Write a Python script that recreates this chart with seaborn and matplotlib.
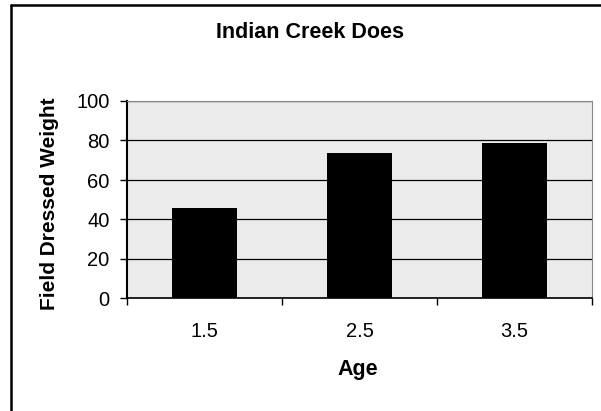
import matplotlib
matplotlib.use("Agg")
import matplotlib.pyplot as plt
import seaborn as sns
import pandas as pd
from matplotlib.lines import Line2D

ages = ["1.5", "2.5", "3.5"]
weights = [46, 73.5, 78.5]
yticks = [0, 20, 40, 60, 80, 100]

sns.set_theme(style="white")
plt.rcParams['font.family'] = ['Liberation Sans', 'DejaVu Sans']

W, H = 601, 411
fig = plt.figure(figsize=(W / 100, H / 100), dpi=100)
ax = fig.add_axes([127 / W, 1 - 298.5 / H, (592 - 127) / W, (298.5 - 101) / H])

df = pd.DataFrame({"Age": ages, "Weight": weights})
sns.barplot(data=df, x="Age", y="Weight", color="black", width=0.42,
            saturation=1, ax=ax, zorder=3, edgecolor="black", linewidth=0)

ax.set_facecolor("#ebebeb")
ax.set_ylim(0, 100)
ax.set_xlim(-0.5, 2.5)
ax.set_yticks(yticks)
ax.set_yticklabels([str(v) for v in yticks], fontsize=14.5)
ax.yaxis.grid(True, color="black", linewidth=0.9, zorder=1)
ax.set_axisbelow(True)
ax.tick_params(axis="y", which="major", left=True, length=5, width=1, color="black", pad=7.5)
ax.tick_params(axis="x", which="major", bottom=False, length=0, labelsize=14.5, pad=17)
ax.set_xticks([-0.5, 0.5, 1.5, 2.5], minor=True)
ax.tick_params(axis="x", which="minor", bottom=True, length=5, width=1, color="black")
for lab in ax.get_xticklabels() + ax.get_yticklabels():
    lab.set_color("black")

ax.set_xlabel("")
ax.set_ylabel("")
for s in ["top", "right"]:
    ax.spines[s].set_color("#888888")
    ax.spines[s].set_linewidth(0.8)
ax.spines["left"].set_color("black")
ax.spines["left"].set_linewidth(1.5)
ax.spines["bottom"].set_color("black")
ax.spines["bottom"].set_linewidth(1.2)

fig.text(310 / W, 1 - 33 / H, "Indian Creek Does", ha="center", va="center",
         fontsize=15.5, fontweight="bold", color="black")
fig.text(358 / W, 1 - 369 / H, "Age", ha="center", va="center",
         fontsize=15.5, fontweight="bold", color="black")
fig.text(50 / W, 1 - 204 / H, "Field Dressed Weight", ha="center", va="center",
         rotation=90, fontsize=15, fontweight="bold", color="black")

# figure border (left and top)
fig.add_artist(Line2D([11 / W, 11 / W], [0, 1 - 5 / H], transform=fig.transFigure,
                      color="black", linewidth=1.8))
fig.add_artist(Line2D([11 / W, 1], [1 - 5 / H, 1 - 5 / H], transform=fig.transFigure,
                      color="black", linewidth=1.8))

fig.savefig("out.png", dpi=100)
